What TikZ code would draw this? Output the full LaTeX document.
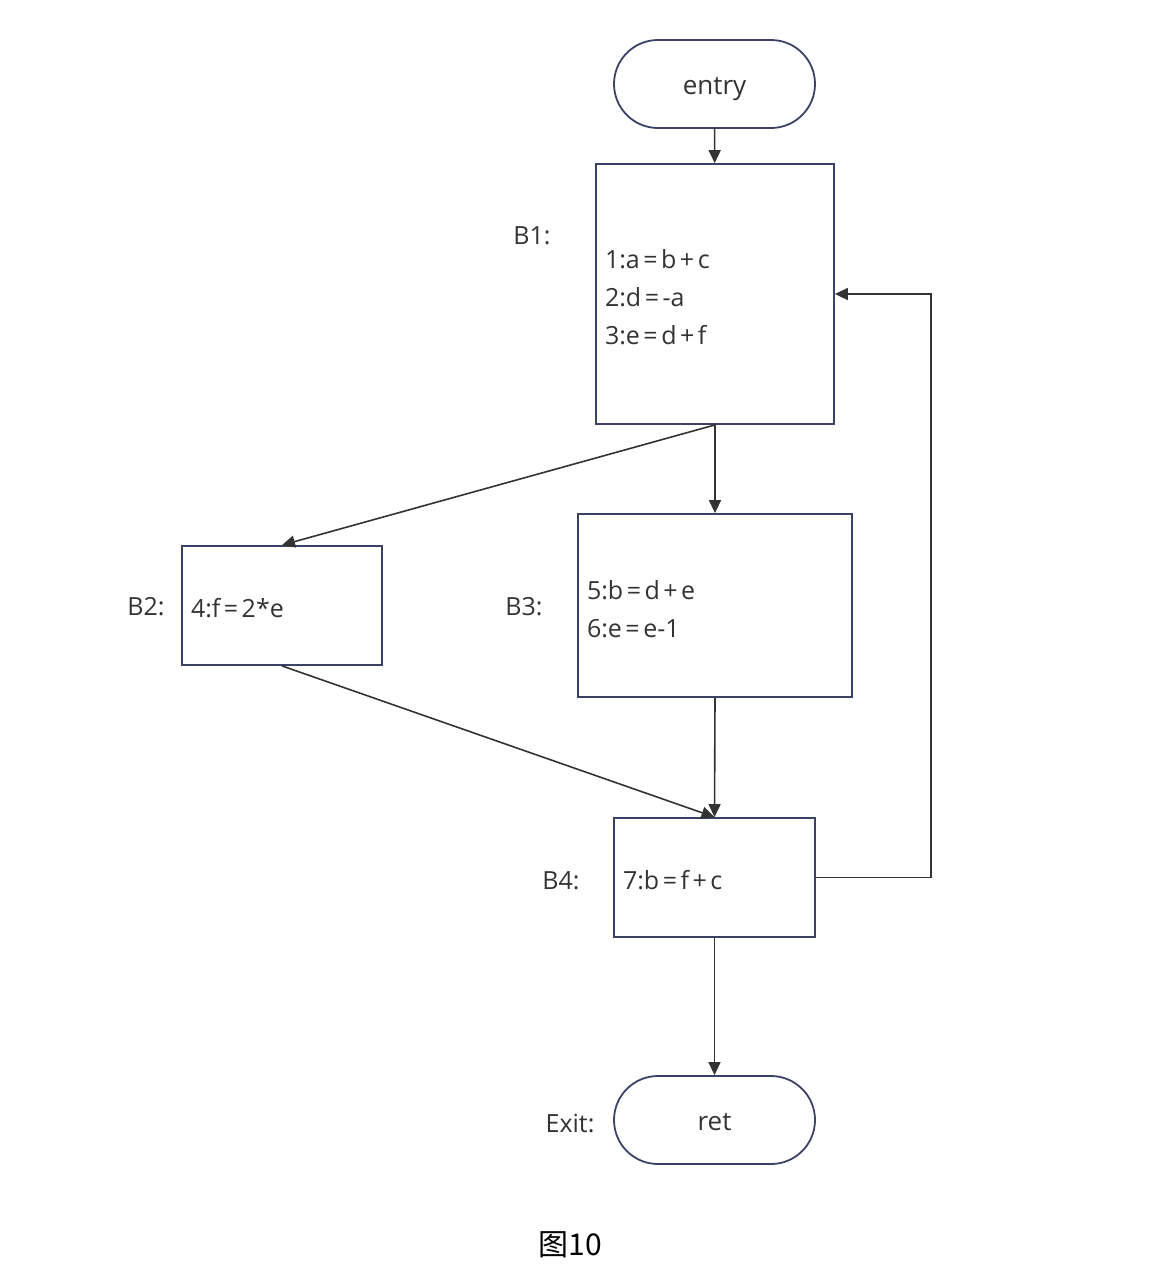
\documentclass[tikz,border=0pt]{standalone}
\usepackage{fontspec}
\setmainfont{Open Sans}
\newfontfamily\cjk{Noto Sans CJK SC}
\usetikzlibrary{arrows.meta}
\definecolor{boxc}{HTML}{3C4266}
\definecolor{arrc}{HTML}{333333}
\definecolor{txt}{HTML}{333333}
\newcommand{\opeq}{\kern3.5pt=\kern3.5pt}
\newcommand{\opplus}{\kern3.5pt+\kern3.5pt}
\newcommand{\topstrut}{\rule{0pt}{25pt}}
\begin{document}
\begin{tikzpicture}[x=1pt,y=-1pt,
  blk/.style={draw=boxc, line width=1.8pt, rectangle, align=left, inner xsep=9pt, inner ysep=0pt,
    font=\fontsize{25}{38}\selectfont, text=txt, anchor=center},
  term/.style={draw=boxc, line width=1.8pt, rectangle, rounded corners=44pt, minimum width=201pt,
    minimum height=88pt, font=\fontsize{26}{30}\selectfont, text=txt, text height=20pt, text depth=0pt},
  lbl/.style={font=\fontsize{25}{30}\selectfont, text=txt},
  arr/.style={draw=arrc, line width=1.6pt, -{Triangle[length=13pt,width=12pt]}}]
\useasboundingbox (0,0) rectangle (1166,1274);
\node[term] (entry) at (714.5,84) {entry};
\node[blk, text width=220pt, minimum height=260pt] (B1) at (715,294)
  {\topstrut 1:a\opeq b\opplus c\\2:d\opeq-a\\3:e\opeq d\opplus f};
\node[blk, text width=182pt, minimum height=119pt] (B2) at (282,605.5) {\topstrut 4:f\opeq 2*e};
\node[blk, text width=256pt, minimum height=183pt] (B3) at (715,605.5)
  {\rule{0pt}{26pt}5:b\opeq d\opplus e\\6:e\opeq e-1};
\node[blk, text width=183pt, minimum height=119pt] (B4) at (714.5,877.5) {\topstrut 7:b\opeq f\opplus c};
\node[term] (ret) at (714.5,1120) {ret};
\node[lbl] (lB1) at (532,236) {B1:};
\node[lbl] (lB2) at (146,607) {B2:};
\node[lbl] (lB3) at (524,607) {B3:};
\node[lbl] (lB4) at (561,881) {B4:};
\node[lbl] (lExit) at (570,1123) {Exit:};
\node[font=\cjk\fontsize{30}{36}\selectfont, text=black] (cap) at (570,1245) {图10};
\draw[arr] (entry) -- (B1);
\draw[arr] (B1.south) -- (B2.north);
\draw[arr] (B1.south) -- (B3.north);
\draw[arr] (B2.south) -- (B4.north);
\draw[arr] (B3.south) -- (B4.north);
\draw[arr] (B4) -- (ret);
\draw[arr] (B4.east) -- ++(115,0) |- (B1.east);
\end{tikzpicture}
\end{document}
